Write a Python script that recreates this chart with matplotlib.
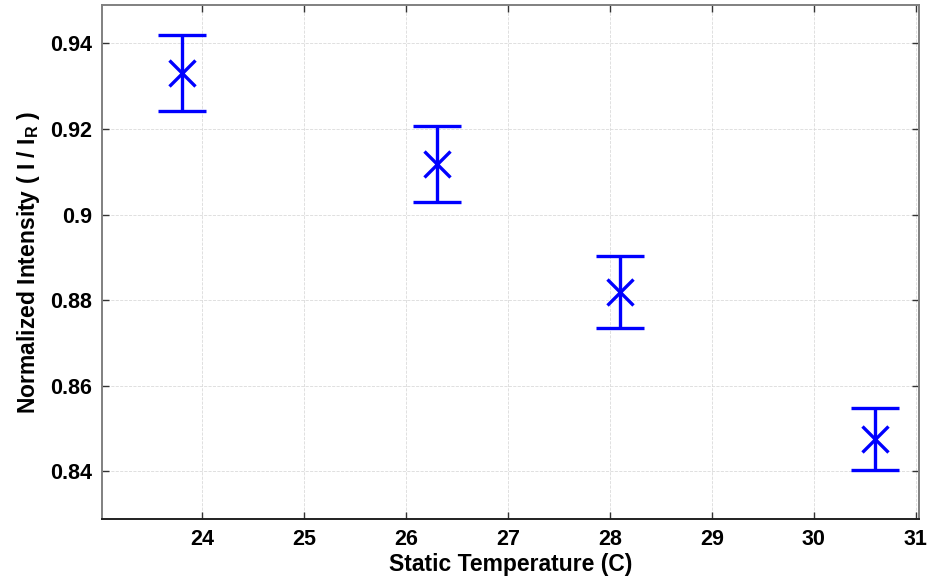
import matplotlib
matplotlib.use("Agg")
import matplotlib.pyplot as plt
import numpy as np

temps = [23.8, 26.3, 28.1, 30.6]
intensity = [0.9330, 0.9118, 0.8819, 0.8475]
err = [0.0089, 0.0089, 0.0084, 0.0072]

x_ticks = [24, 25, 26, 27, 28, 29, 30, 31]
y_ticks = [0.84, 0.86, 0.88, 0.90, 0.92, 0.94]
y_tick_labels = ["0.84", "0.86", "0.88", "0.9", "0.92", "0.94"]

plt.rcParams["font.family"] = ["Liberation Sans", "DejaVu Sans"]
plt.rcParams["font.weight"] = "bold"
plt.rcParams["mathtext.fontset"] = "custom"
plt.rcParams["mathtext.bf"] = "Liberation Sans:bold"
plt.rcParams["mathtext.rm"] = "Liberation Sans:bold"

fig = plt.figure(figsize=(9.32, 5.78), dpi=100)
ax = fig.add_axes([102 / 932, 1 - 519 / 578, (919 - 102) / 932, (519 - 5) / 578])

ax.errorbar(temps, intensity, yerr=err, fmt="x", color="#0000ff",
            ms=19, mew=2.4, elinewidth=2.4, capsize=17.5, capthick=2.6)

ax.set_xlim(23.02, 31.03)
ax.set_ylim(0.8288, 0.949)
ax.set_xticks(x_ticks)
ax.set_yticks(y_ticks)
ax.set_yticklabels(y_tick_labels)

ax.grid(True, linestyle="--", color="#dadada", linewidth=0.6)
ax.set_axisbelow(True)
ax.tick_params(direction="in", top=True, right=True, length=5, width=1,
               labelsize=15.5, pad=7, color="#333333")
for lab in ax.get_xticklabels() + ax.get_yticklabels():
    lab.set_fontweight("bold")

for side in ["left", "top", "right"]:
    ax.spines[side].set_color("#808080")
    ax.spines[side].set_linewidth(1.4)
ax.spines["bottom"].set_color("#202020")
ax.spines["bottom"].set_linewidth(1.4)

ax.set_xlabel("Static Temperature (C)", fontsize=16.5, fontweight="bold", labelpad=2)
ax.set_ylabel(r"Normalized Intensity ( I / I$_\mathbf{R}$ )", fontsize=16.5,
              fontweight="bold", labelpad=6)

fig.savefig("out.png", dpi=100)
